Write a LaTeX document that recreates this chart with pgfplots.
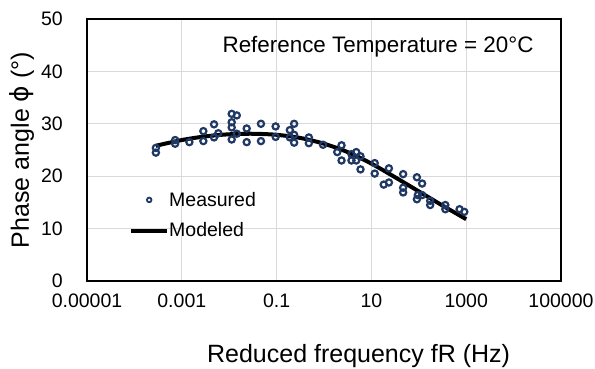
\documentclass[border=0pt]{standalone}
\usepackage{pgfplots}
\pgfplotsset{compat=1.18}
\usepackage{fontspec}
\setmainfont{Liberation Sans}
\newfontfamily\dv{DejaVu Sans}
\definecolor{mblue}{RGB}{31,56,100}
\definecolor{gridc}{RGB}{217,217,217}
\pgfplotsset{
 linelegend/.style={legend image code/.code={\draw[##1] (0pt,0pt) -- (36pt,0pt);}},
 marklegend/.style={legend image code/.code={\draw[##1, mark size=2.3pt, line width=1.8pt] plot coordinates {(18pt,0pt)};}},
}
\begin{document}
\begin{tikzpicture}
\useasboundingbox (-87pt,-88pt) rectangle (508pt,281pt);
\begin{axis}[
 at={(0,0)}, anchor=south west,
 width=474pt, height=262pt, scale only axis,
 xmode=log, xmin=1e-5, xmax=1e5, ymin=0, ymax=50,
 xtick={1e-5,1e-3,1e-1,1e1,1e3,1e5},
 xticklabels={0.00001,0.001,0.1,10,1000,100000},
 ytick={0,10,20,30,40,50},
 minor xtick={},
 grid=major, major grid style={gridc, line width=1pt},
 axis line style={line width=1.5pt},
 major tick length=0pt,
 /pgf/number format/assume math mode=true,
 ticklabel style={font=\fontsize{19.5}{22}\selectfont, inner sep=0pt},
 xticklabel style={anchor=base, yshift=-27pt},
 yticklabel style={anchor=east, xshift=-24pt},
 xlabel={Reduced frequency fR (Hz)},
 ylabel={Phase angle {\dv ϕ} (°)},
 label style={font=\fontsize{25}{28}\selectfont, inner sep=0pt},
 xlabel style={at={(axis description cs:0.573,0)}, anchor=base, yshift=-81.7pt},
 ylabel style={at={(axis description cs:-0.137,0.5)}, anchor=center},
 reverse legend,
 legend cell align=left,
 legend style={draw=none, fill=none, inner sep=0pt, at={(axis description cs:0.0886,0.34)}, anchor=north west,
   font=\fontsize{19.5}{22}\selectfont, nodes={inner sep=0pt}, row sep=15pt,
   /tikz/every even column/.append style={column sep=3pt}},
]
\addplot[black, line width=4pt, smooth, linelegend] coordinates {
(2.82e-4,25.8) (1e-3,26.9) (3.16e-3,27.6) (0.01,28.0) (0.0316,28.1) (0.1,27.9)
(0.316,27.3) (1,26.2) (3.16,24.6) (10,22.4) (31.6,19.8) (100,17.1) (316,14.4) (1000,11.8)
};
\addlegendentry{Modeled}
\addplot[only marks, mark=o, mark size=3.1pt, mblue, line width=2.2pt, mark options={fill=white}, marklegend] coordinates {
(2.84e-4,25.4) (2.84e-4,24.5)
(7.24e-4,26.9) (7.24e-4,26.2)
(1.445e-3,26.5)
(2.85e-3,28.6) (2.85e-3,26.7)
(4.79e-3,29.9) (4.79e-3,27.4)
(5.89e-3,28.2)
(0.0113,31.9) (0.0113,30.3) (0.0113,29.3) (0.0113,27.0)
(0.01445,31.6) (0.01445,28.1)
(0.0234,29.1) (0.0234,26.5)
(0.0468,30.0) (0.0468,26.7)
(0.0955,29.5) (0.0955,27.5)
(0.1905,28.8) (0.1905,27.4)
(0.2344,30.0) (0.2344,27.9) (0.2344,26.4)
(0.479,27.4) (0.479,26.3)
(0.955,26.0)
(1.905,24.6)
(2.344,25.9) (2.344,23.0)
(3.80,24.2) (3.80,23.0)
(4.79,24.6) (4.79,23.0)
(5.89,23.8) (5.89,21.3)
(11.75,22.5) (11.75,20.5)
(18.2,18.4)
(23.4,21.5) (23.4,18.8)
(46.8,20.4) (46.8,17.8) (46.8,16.9)
(91.2,19.8) (91.2,15.6)
(95.5,16.4)
(117.5,18.6) (117.5,16.4)
(173.8,15.3) (173.8,14.5)
(363,14.5) (363,13.7)
(724,13.7)
(912,13.2)
};
\addlegendentry{Measured}
\node[anchor=base, font=\fontsize{22.4}{26}\selectfont, inner sep=0pt] at (axis description cs:0.614,0.871) {Reference Temperature = 20°C};
\end{axis}
\end{tikzpicture}
\end{document}
